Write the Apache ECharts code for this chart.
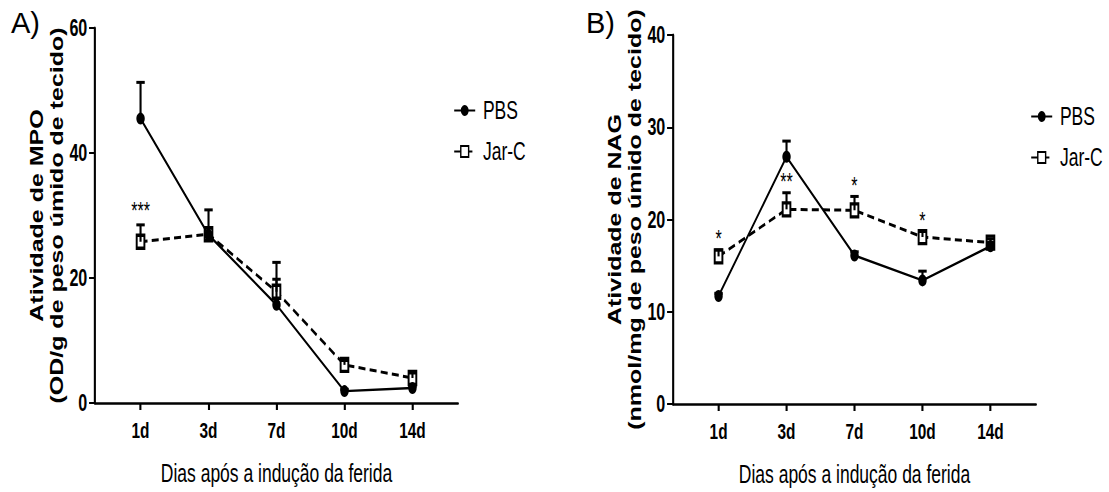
<!DOCTYPE html>
<html>
<head>
<meta charset="utf-8">
<script src="https://cdn.jsdelivr.net/npm/echarts@6/dist/echarts.min.js"></script>
<style>
  html, body { margin: 0; padding: 0; background: #fff; overflow: hidden; }
  #frame { width: 1109px; height: 492px; overflow: hidden; position: relative; }
  /* The figure is laid out on a wider canvas and squeezed horizontally */
  #chart { width: 1584px; height: 492px; transform: scaleX(0.70013); transform-origin: 0 0; }
</style>
</head>
<body>
<div id="frame"><div id="chart"></div></div>
<script>
// Days after wound induction
const days = ['1d', '3d', '7d', '10d', '14d'];

// A) MPO activity (OD/g wet tissue): mean and upper SEM
const mpoPBS    = [45.5, 26.9, 15.7, 1.9, 2.4];
const mpoPBSErr = [5.8, 4.0, 4.1, 0.3, 0.3];
const mpoJar    = [25.8, 27.0, 17.8, 6.1, 4.0];
const mpoJarErr = [2.7, 1.0, 4.7, 0.7, 0.8];
const mpoSig    = ['***', '', '', '', ''];
const mpoTicks  = [0, 20, 40, 60];

// B) NAG activity (nmol/mg wet tissue): mean and upper SEM
const nagPBS    = [11.7, 26.8, 16.1, 13.4, 17.1];
const nagPBSErr = [0.3, 1.7, 0.4, 1.0, 0.4];
const nagJar    = [16.0, 21.1, 21.0, 18.1, 17.5];
const nagJarErr = [0.7, 1.8, 1.5, 0.6, 0.4];
const nagSig    = ['*', '**', '*', '*', ''];
const nagTicks  = [0, 10, 20, 30, 40];

const S = 1109 / 1584;            // horizontal squeeze of the canvas
const vx = r => r / S;            // page x -> canvas x
const FONT = 'Liberation Sans, Arial, sans-serif';
const positions = days.map((d, i) => i + 1);

const pts = arr => arr.map((v, i) => [i + 1, v]);
const errData = (m, e) => m.map((v, i) => [i + 1, v, e[i]]);

function errRender(params, api) {
  const x = api.value(0), m = api.value(1), e = api.value(2);
  const p0 = api.coord([x, m]);
  const p1 = api.coord([x, m + e]);
  const hw = 6;
  return {
    type: 'group',
    children: [
      { type: 'line', shape: { x1: p0[0], y1: p0[1], x2: p1[0], y2: p1[1] },
        style: { stroke: '#000', lineWidth: 3 } },
      { type: 'line', shape: { x1: p1[0] - hw, y1: p1[1], x2: p1[0] + hw, y2: p1[1] },
        style: { stroke: '#000', lineWidth: 3 } }
    ]
  };
}

function starRender(sig, lift) {
  return function (params, api) {
    const t = sig[params.dataIndex];
    if (!t) return null;
    const p = api.coord([api.value(0), api.value(1) + api.value(2)]);
    return {
      type: 'text',
      style: { text: t, x: p[0], y: p[1] - lift, align: 'center', verticalAlign: 'middle',
               fontSize: 23, fontFamily: FONT, fill: '#000', stroke: 'none', lineWidth: 0 }
    };
  };
}

function xAxisFor(gi) {
  return {
    type: 'value', gridIndex: gi, min: 0.33, max: 5.67,
    axisLine: { show: true, onZero: false, lineStyle: { color: '#000', width: 2.5 } },
    axisTick: { show: true, customValues: positions, length: 7, lineStyle: { color: '#000', width: 3 } },
    axisLabel: { customValues: positions, formatter: v => days[Math.round(v) - 1],
                 margin: 16, fontSize: 22, fontWeight: 'bold', color: '#000', fontFamily: FONT },
    splitLine: { show: false },
    name: 'Dias após a indução da ferida', nameLocation: 'middle', nameGap: 58,
    nameTextStyle: { fontSize: 25, color: '#000', fontFamily: FONT }
  };
}

function yAxisFor(gi, ticks, title) {
  return {
    type: 'value', gridIndex: gi, min: ticks[0], max: ticks[ticks.length - 1],
    interval: ticks[1] - ticks[0],
    axisLine: { show: true, lineStyle: { color: '#000', width: 3 } },
    axisTick: { show: true, length: 8.5, lineStyle: { color: '#000', width: 2 } },
    axisLabel: { margin: 11, fontSize: 23, fontWeight: 'bold', color: '#000', fontFamily: FONT },
    splitLine: { show: false },
    name: title, nameLocation: 'middle', nameRotate: 90, nameGap: 40,
    nameTextStyle: { fontSize: 25, fontWeight: 'bold', color: '#000', fontFamily: FONT, lineHeight: 28.5 }
  };
}

function panelSeries(gi, pbs, pbsErr, jar, jarErr, sig, lift) {
  return [
    { name: 'PBS', type: 'line', xAxisIndex: gi, yAxisIndex: gi, data: pts(pbs),
      symbol: 'circle', symbolSize: 12, z: 3,
      itemStyle: { color: '#000' }, lineStyle: { color: '#000', width: 2.5 } },
    { name: 'Jar-C', type: 'line', xAxisIndex: gi, yAxisIndex: gi, data: pts(jar),
      symbol: 'rect', symbolSize: [11, 13], z: 2,
      itemStyle: { color: '#fff', borderColor: '#000', borderWidth: 3 },
      lineStyle: { color: '#000', width: 3, type: [10, 6] } },
    { type: 'custom', xAxisIndex: gi, yAxisIndex: gi, data: errData(pbs, pbsErr),
      renderItem: errRender, z: 4, silent: true, itemStyle: { color: '#000' } },
    { type: 'custom', xAxisIndex: gi, yAxisIndex: gi, data: errData(jar, jarErr),
      renderItem: errRender, z: 4, silent: true, itemStyle: { color: '#000' } },
    { type: 'custom', xAxisIndex: gi, yAxisIndex: gi, data: errData(jar, jarErr),
      renderItem: starRender(sig, lift), z: 5, silent: true, itemStyle: { color: '#000' } }
  ];
}

function legendAt(left, top) {
  return {
    data: ['PBS', 'Jar-C'], orient: 'vertical', left: left, top: top,
    itemWidth: 30, itemHeight: 14, itemGap: 16,
    textStyle: { fontSize: 25, color: '#000', fontFamily: FONT, padding: [0, 0, 0, 6] }
  };
}

const chart = echarts.init(document.getElementById('chart'), null, { renderer: 'svg' });
chart.setOption({
  animation: false,
  backgroundColor: '#fff',
  grid: [
    { left: vx(95), top: 28, width: vx(363), height: 375 },
    { left: vx(673), top: 35, width: vx(363), height: 369 }
  ],
  xAxis: [xAxisFor(0), xAxisFor(1)],
  yAxis: [
    yAxisFor(0, mpoTicks, 'Atividade de MPO\n(OD/g de peso úmido de tecido)'),
    yAxisFor(1, nagTicks, 'Atividade de NAG\n(nmol/mg de peso úmido de tecido)')
  ],
  legend: [legendAt(vx(450), 93), legendAt(vx(1027), 99)],
  series: [
    ...panelSeries(0, mpoPBS, mpoPBSErr, mpoJar, mpoJarErr, mpoSig, 14),
    ...panelSeries(1, nagPBS, nagPBSErr, nagJar, nagJarErr, nagSig, 11)
  ],
  graphic: [
    { type: 'text', x: vx(11), y: 8, scaleX: 1 / S,
      style: { text: 'A)', fontSize: 29, fontFamily: FONT, fill: '#000' } },
    { type: 'text', x: vx(586), y: 8, scaleX: 1 / S,
      style: { text: 'B)', fontSize: 29, fontFamily: FONT, fill: '#000' } }
  ]
});
</script>
</body>
</html>
